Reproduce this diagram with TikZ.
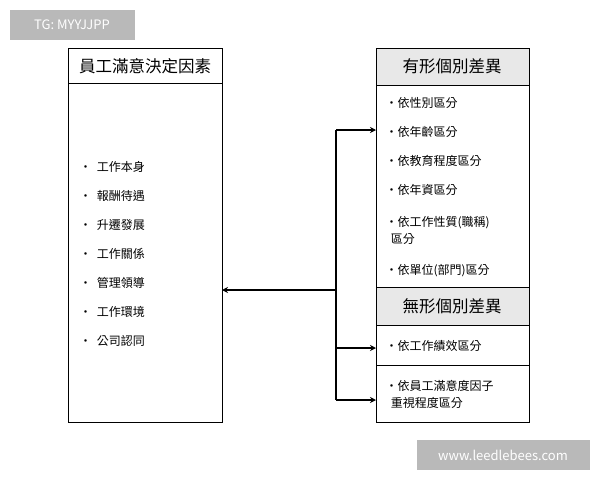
\documentclass[tikz,border=0pt]{standalone}
\usepackage{fontspec}
\setmainfont{Noto Sans CJK TC}
\usetikzlibrary{arrows.meta}
\begin{document}
\begin{tikzpicture}[x=1pt,y=-1pt,
  box/.style={draw,line width=1pt},
  hd/.style={box,fill=gray!18},
  tl/.style={font=\fontsize{16.5}{18}\selectfont},
  it/.style={font=\fontsize{12}{17}\selectfont,anchor=west,align=left},
  conn/.style={line width=1.6pt},
  arr/.style={conn,-{Stealth[length=6pt,width=6pt]}},
  wm/.style={fill=gray!55,text=white,font=\fontsize{13}{15}\selectfont,inner sep=0pt}]
\useasboundingbox (0,0) rectangle (600,480);
% left
\draw[box] (68,48) rectangle (222,83);
\node[tl] (lt) at (145,66) {員工滿意決定因素};
\draw[box] (68,83) rectangle (222,422);
\coordinate (lin) at (222,290);
\foreach \t [count=\i] in {工作本身,報酬待遇,升遷發展,工作關係,管理領導,工作環境,公司認同}
  \node[it] (l\i) at (76,138+29*\i) {·\ \ \t};
% right
\draw[hd] (376,48) rectangle (529,85);
\node[tl] (rt) at (452,66) {有形個別差異};
\draw[box] (376,85) rectangle (529,287);
\node[it] (r1) at (382,103) {·依性別區分};
\node[it] (r2) at (382,132) {·依年齡區分};
\node[it] (r3) at (382,161) {·依教育程度區分};
\node[it] (r4) at (382,190) {·依年資區分};
\node[it] (r5) at (382,230) {·依工作性質(職稱)\\\ \ 區分};
\node[it] (r6) at (382,271) {·依單位(部門)區分};
\draw[hd] (376,287) rectangle (529,325);
\node[tl] (rt2) at (452,306) {無形個別差異};
\draw[box] (376,325) rectangle (529,365);
\node[it] (r7) at (382,346) {·依工作績效區分};
\draw[box] (376,365) rectangle (529,422);
\node[it] (r8) at (382,394) {·依員工滿意度因子\\\ \ 重視程度區分};
% connectors
\coordinate (jt) at (336,130);
\coordinate (jm) at (336,290);
\coordinate (jb) at (336,400);
\coordinate (a1) at (376,130);
\coordinate (a2) at (376,348);
\coordinate (a3) at (376,400);
\draw[conn] (jt) -- (jb);
\draw[arr] (jt) -- (a1);
\draw[arr] (336,348) -- (a2);
\draw[arr] (jb) -- (a3);
\draw[arr] (jm) -- (lin);
% watermarks
\node[wm,minimum width=125,minimum height=30] (w1) at (72,25) {TG: MYYJJPP};
\node[wm,minimum width=173,minimum height=30] (w2) at (503,455) {www.leedlebees.com};
\end{tikzpicture}
\end{document}
